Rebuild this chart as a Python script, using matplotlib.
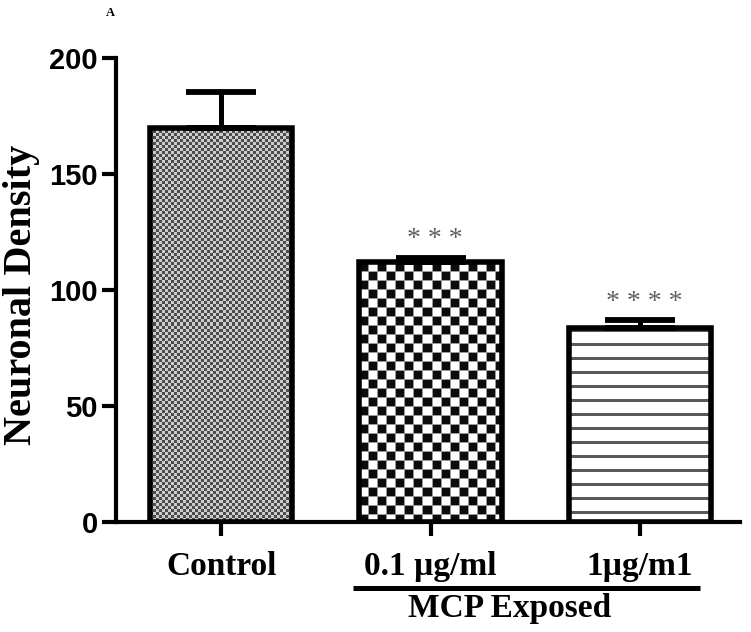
import numpy as np
import matplotlib
matplotlib.use('Agg')
import matplotlib.pyplot as plt

groups = ['Control', '0.1 µg/ml', '1µg/m1']
means = [170, 112, 83.5]
errs = [15.5, 2, 3.5]
stars = ['', '* * *', '* * * *']
yticks = [0, 50, 100, 150, 200]


def texture(kind, h, w):
    i, j = np.mgrid[0:h, 0:w]
    if kind == 'fine':
        # fine grey checker
        arr = np.where(((i // 3) + (j // 3)) % 2 == 0, 0.3, 0.8)
    elif kind == 'checker':
        arr = np.where(((i // 9) + (j // 9)) % 2 == 0, 0.05, 1.0)
        arr = np.where((i % 9 == 0) | (j % 9 == 0), 0.6, arr)
    else:
        r = h - 1 - i
        arr = np.where((r - 8) % 14 < 3, 0.35, 1.0)
    return arr


fig = plt.figure(figsize=(7.51, 6.32), dpi=100)
ax = fig.add_axes([116 / 751, 1 - 522 / 632, (740 - 116) / 751, (522 - 58) / 632])

x = np.arange(len(groups))
bars = ax.bar(x, means, width=0.68, facecolor='none', edgecolor='black',
              linewidth=4, zorder=3)
ax.errorbar(x, means, yerr=[[0] * len(errs), errs], fmt='none', ecolor='black',
            elinewidth=3.6, capsize=25, capthick=4.2, zorder=2.5)

ax.set_xlim(-0.504, 2.48)
ax.set_ylim(0, 200)

# fill the bars with their textures
kinds = ['fine', 'checker', 'lines']
for b, kind in zip(bars, kinds):
    bb = b.get_window_extent()
    w = int(round(bb.width))
    h = int(round(bb.height))
    img = ax.imshow(texture(kind, h, w), cmap='gray', vmin=0, vmax=1,
                    extent=(b.get_x(), b.get_x() + b.get_width(), 0, b.get_height()),
                    interpolation='nearest', aspect='auto', zorder=2)
    img.set_clip_path(b)
ax.set_xlim(-0.504, 2.48)
ax.set_ylim(0, 200)

for xi, m, e, s in zip(x, means, errs, stars):
    if s:
        ax.text(xi + 0.02, m + e + 5, s, ha='center', va='baseline',
                fontsize=20, color='#606060', family='Liberation Serif')

ax.spines['top'].set_visible(False)
ax.spines['right'].set_visible(False)
ax.spines['left'].set_linewidth(3)
ax.spines['bottom'].set_linewidth(3)

ax.set_yticks(yticks)
ax.set_yticklabels([str(t) for t in yticks], fontsize=21, fontweight='bold',
                   family='Liberation Sans')
ax.set_xticks(x)
ax.set_xticklabels(groups, fontsize=24, fontweight='bold', family='Liberation Serif')
ax.tick_params(axis='both', width=3, length=10)
ax.tick_params(axis='x', pad=11)
ax.tick_params(axis='y', pad=3)

ax.set_ylabel('Neuronal Density', fontsize=29, fontweight='bold',
              family='Liberation Serif')
ax.yaxis.set_label_coords((40 - 116) / 624, (522 - 295) / 464)

# bracket under the exposed groups
ax.plot([0.63, 2.29], [-28.4, -28.4], color='black', linewidth=3.6,
        clip_on=False, solid_capstyle='butt')
ax.text(1.38, -37.5, 'MCP Exposed', ha='center', va='center', fontsize=24,
        fontweight='bold', family='Liberation Serif')

fig.text(110 / 751, 1 - 13 / 632, 'A', ha='center', va='center', fontsize=9,
         fontweight='bold', family='Liberation Serif')

fig.savefig('out.png', dpi=100)
